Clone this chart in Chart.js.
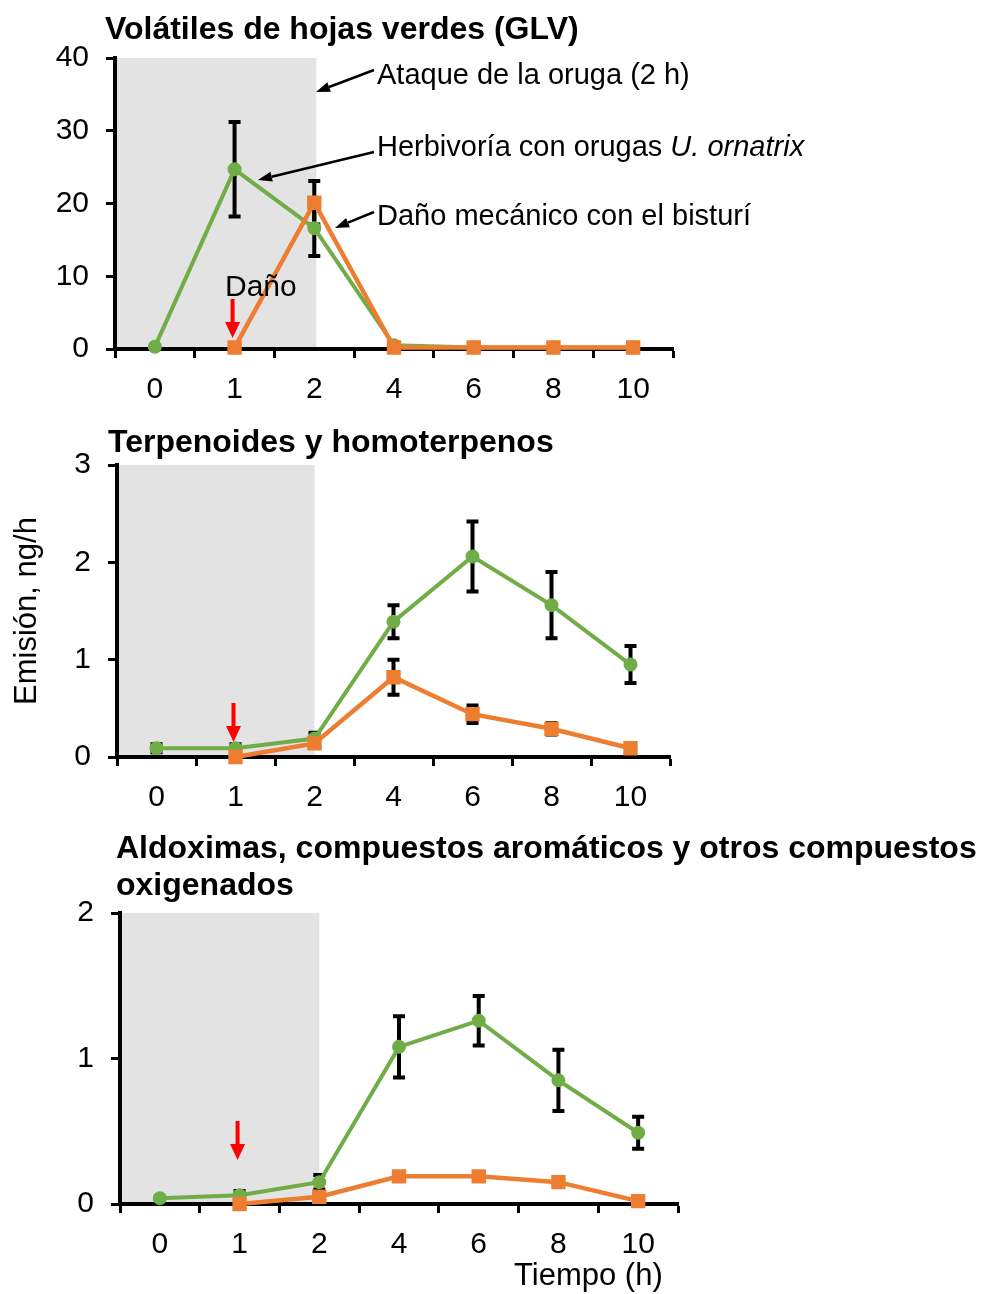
<!DOCTYPE html>
<html>
<head>
<meta charset="utf-8">
<script src="https://cdn.jsdelivr.net/npm/chart.js@4.4.1/dist/chart.umd.min.js"></script>
<style>
    body { margin: 0; background: #fff; width: 982px; height: 1294px; position: relative; overflow: hidden; }
    canvas { position: absolute; left: 0; }
</style>
</head>
<body>
<canvas id="glvChart" width="982" height="410" style="top:0px"></canvas>
<canvas id="terpChart" width="982" height="415" style="top:410px"></canvas>
<canvas id="aldChart" width="982" height="469" style="top:825px"></canvas>
<script>
// data (time after start, h)
const timeLabels = ['0', '1', '2', '4', '6', '8', '10']

// Volátiles de hojas verdes (GLV)
const glvHerb = [0.3, 24.7, 16.6, 0.5, 0.2, 0.2, 0.2]
const glvHerbErr = [0, 6.5, 3.8, 0, 0, 0, 0]
const glvMech = [null, 0.2, 20.1, 0.2, 0.2, 0.2, 0.2]
const glvMechErr = [null, 0, 3.0, 0, 0, 0, 0]
const glvTicks = [0, 10, 20, 30, 40]

// Terpenoides y homoterpenos
const terpHerb = [0.09, 0.09, 0.19, 1.39, 2.06, 1.56, 0.95]
const terpHerbErr = [0.04, 0.04, 0.06, 0.17, 0.36, 0.34, 0.19]
const terpMech = [null, 0.0, 0.14, 0.82, 0.44, 0.29, 0.09]
const terpMechErr = [null, 0, 0.04, 0.18, 0.09, 0.06, 0.02]
const terpTicks = [0, 1, 2, 3]

// Aldoximas, compuestos aromáticos y otros compuestos oxigenados
const aldHerb = [0.04, 0.06, 0.15, 1.08, 1.26, 0.85, 0.49]
const aldHerbErr = [0.01, 0.03, 0.05, 0.21, 0.17, 0.21, 0.11]
const aldMech = [null, 0.0, 0.05, 0.19, 0.19, 0.15, 0.02]
const aldMechErr = [null, 0, 0.03, 0.03, 0.03, 0.02, 0.01]
const aldTicks = [0, 1, 2]

const GREEN = '#70ad47'
const ORANGE = '#ed7d31'
const FONT = "'Liberation Sans', Arial, sans-serif"

Chart.defaults.font.family = FONT
Chart.defaults.color = '#000'

function drawArrow(ctx, x1, y1, x2, y2, color, width, headLen, headW) {
    const ang = Math.atan2(y2 - y1, x2 - x1)
    const bx = x2 - headLen * Math.cos(ang)
    const by = y2 - headLen * Math.sin(ang)
    ctx.strokeStyle = color
    ctx.fillStyle = color
    ctx.lineWidth = width
    ctx.beginPath()
    ctx.moveTo(x1, y1)
    ctx.lineTo(bx, by)
    ctx.stroke()
    ctx.beginPath()
    ctx.moveTo(x2, y2)
    ctx.lineTo(bx + headW / 2 * Math.sin(ang), by - headW / 2 * Math.cos(ang))
    ctx.lineTo(bx - headW / 2 * Math.sin(ang), by + headW / 2 * Math.cos(ang))
    ctx.closePath()
    ctx.fill()
}

// shaded attack window, error bars, titles and arrows
const decorPlugin = {
    id: 'decor',
    beforeDraw(chart, args, opts) {
        const { ctx, chartArea, scales } = chart
        const xEnd = scales.x.getPixelForValue(2) + (opts.shadeExtra || 0)
        ctx.save()
        ctx.fillStyle = '#e3e3e3'
        ctx.fillRect(chartArea.left, chartArea.top, xEnd - chartArea.left, chartArea.bottom - chartArea.top)
        ctx.restore()
    },
    beforeDatasetsDraw(chart) {
        const { ctx, scales } = chart
        ctx.save()
        ctx.strokeStyle = '#000'
        ctx.lineWidth = 4
        chart.data.datasets.forEach(ds => {
            if (!ds.errors) return
            ds.data.forEach((v, i) => {
                const e = ds.errors[i]
                if (v == null || !e) return
                const x = scales.x.getPixelForValue(i)
                const yTop = scales.y.getPixelForValue(v + e)
                const yBot = scales.y.getPixelForValue(Math.max(0, v - e))
                ctx.beginPath()
                ctx.moveTo(x, yTop); ctx.lineTo(x, yBot)
                ctx.moveTo(x - 6, yTop); ctx.lineTo(x + 6, yTop)
                ctx.moveTo(x - 6, yBot); ctx.lineTo(x + 6, yBot)
                ctx.stroke()
            })
        })
        ctx.restore()
    },
    afterDraw(chart, args, opts) {
        const { ctx, chartArea, scales } = chart
        ctx.save()
        ctx.textBaseline = 'middle'
        ctx.fillStyle = '#000'

        ctx.font = 'bold 32px ' + FONT
        ctx.textAlign = 'left'
        ;(opts.titles || []).forEach(t => ctx.fillText(t.text, t.x, t.y))

        // red "Daño" arrow above the 1 h point
        const ax = scales.x.getPixelForValue(1) - 2
        const tipY = chartArea.bottom - opts.arrowGap
        drawArrow(ctx, ax, tipY - 39, ax, tipY, '#ff0000', 4, 16, 15)

        if (opts.dano) {
            ctx.fillStyle = '#000'
            ctx.font = '30px ' + FONT
            ctx.fillText('Daño', opts.dano.x, opts.dano.y)
        }

        ;(opts.notes || []).forEach(n => {
            ctx.fillStyle = '#000'
            ctx.font = '29px ' + FONT
            ctx.fillText(n.text, n.x, n.y)
            if (n.italic) {
                const w = ctx.measureText(n.text).width
                ctx.font = 'italic 29px ' + FONT
                ctx.fillText(n.italic, n.x + w, n.y)
            }
            drawArrow(ctx, n.from[0], n.from[1], n.to[0], n.to[1], '#000', 2.5, 14, 10)
        })

        if (opts.xTitle) {
            ctx.fillStyle = '#000'
            ctx.font = '31px ' + FONT
            ctx.fillText(opts.xTitle.text, opts.xTitle.x, opts.xTitle.y)
        }
        if (opts.yTitle) {
            ctx.fillStyle = '#000'
            ctx.font = '31px ' + FONT
            ctx.translate(opts.yTitle.x, opts.yTitle.y)
            ctx.rotate(-Math.PI / 2)
            ctx.textAlign = 'center'
            ctx.fillText(opts.yTitle.text, 0, 0)
        }
        ctx.restore()
    }
}

function buildChart(id, cfg) {
    const tickFont = { size: 30, family: FONT }
    return new Chart(document.getElementById(id), {
        type: 'line',
        data: {
            labels: timeLabels,
            datasets: [{
                label: 'Daño mecánico con el bisturí',
                data: cfg.mech,
                errors: cfg.mechErr,
                borderColor: ORANGE,
                backgroundColor: ORANGE,
                borderWidth: 4.5,
                pointStyle: 'rect',
                pointRadius: 7,
                order: 0,
                clip: false
            }, {
                label: 'Herbivoría con orugas U. ornatrix',
                data: cfg.herb,
                errors: cfg.herbErr,
                borderColor: GREEN,
                backgroundColor: GREEN,
                borderWidth: 4,
                pointRadius: 5,
                order: 1,
                clip: false
            }]
        },
        options: {
            responsive: false,
            animation: false,
            layout: { padding: cfg.padding },
            plugins: {
                legend: { display: false },
                tooltip: { enabled: false },
                decor: cfg.decor
            },
            scales: {
                x: {
                    type: 'category',
                    offset: true,
                    grid: { offset: true, drawOnChartArea: false, tickLength: 9, tickWidth: 3, tickColor: '#000' },
                    border: { color: '#000', width: 4 },
                    ticks: { padding: 14, color: '#000', font: tickFont, maxRotation: 0, autoSkip: false },
                    afterFit: s => { s.height = cfg.xHeight }
                },
                y: {
                    min: cfg.ticks[0],
                    max: cfg.ticks[cfg.ticks.length - 1],
                    afterBuildTicks: s => { s.ticks = cfg.ticks.map(v => ({ value: v })) },
                    grid: { drawOnChartArea: false, tickLength: 9, tickWidth: 3, tickColor: '#000' },
                    border: { color: '#000', width: 4 },
                    ticks: { padding: 17, color: '#000', font: tickFont },
                    afterFit: s => { s.width = cfg.yWidth }
                }
            }
        },
        plugins: [decorPlugin]
    })
}

buildChart('glvChart', {
    herb: glvHerb, herbErr: glvHerbErr, mech: glvMech, mechErr: glvMechErr, ticks: glvTicks,
    padding: { top: 58, right: 309, bottom: 0, left: 0 },
    yWidth: 115, xHeight: 61,
    decor: {
        shadeExtra: 2,
        arrowGap: 11,
        titles: [{ text: 'Volátiles de hojas verdes (GLV)', x: 105, y: 30 }],
        dano: { x: 225, y: 288 },
        notes: [
            { text: 'Ataque de la oruga (2 h)', x: 377, y: 76, from: [374, 70], to: [316, 92] },
            { text: 'Herbivoría con orugas ', italic: 'U. ornatrix', x: 377, y: 148, from: [374, 152], to: [258, 180] },
            { text: 'Daño mecánico con el bisturí', x: 377, y: 217, from: [374, 212], to: [335, 228] }
        ]
    }
})

buildChart('terpChart', {
    herb: terpHerb, herbErr: terpHerbErr, mech: terpMech, mechErr: terpMechErr, ticks: terpTicks,
    padding: { top: 55, right: 312, bottom: 0, left: 0 },
    yWidth: 117, xHeight: 68,
    decor: {
        shadeExtra: 0,
        arrowGap: 15,
        titles: [{ text: 'Terpenoides y homoterpenos', x: 108, y: 33 }],
        yTitle: { text: 'Emisión, ng/h', x: 27, y: 201 }
    }
})

buildChart('aldChart', {
    herb: aldHerb, herbErr: aldHerbErr, mech: aldMech, mechErr: aldMechErr, ticks: aldTicks,
    padding: { top: 88, right: 304, bottom: 0, left: 0 },
    yWidth: 120, xHeight: 90,
    decor: {
        shadeExtra: 0,
        arrowGap: 44,
        titles: [
            { text: 'Aldoximas, compuestos aromáticos y otros compuestos', x: 116, y: 24 },
            { text: 'oxigenados', x: 116, y: 61 }
        ],
        xTitle: { text: 'Tiempo (h)', x: 514, y: 451 }
    }
})
</script>
</body>
</html>
